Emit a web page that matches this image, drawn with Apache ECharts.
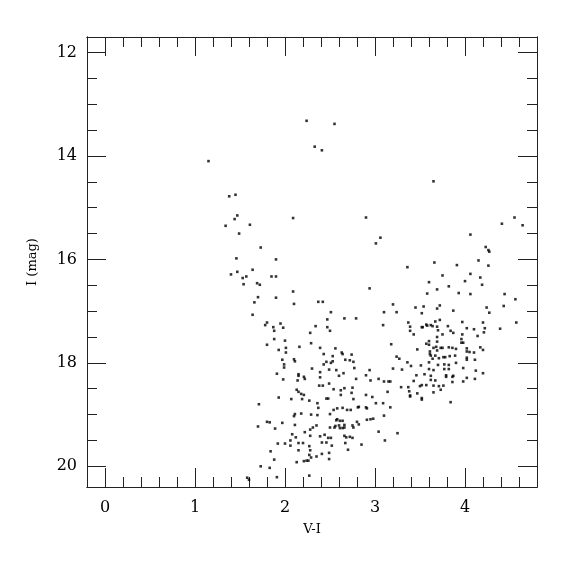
<!DOCTYPE html>
<html>
<head>
<meta charset="utf-8">
<script src="https://cdn.jsdelivr.net/npm/echarts@6/dist/echarts.min.js"></script>
<style>html,body{margin:0;padding:0;background:#fff;}#chart{width:575px;height:575px;}</style>
</head>
<body>
<div id="chart"></div>
<script>
// Tick labels
const xMajorTicks = [0, 1, 2, 3, 4];
const xMinorTicks = [0.2,0.4,0.6,0.8,1.2,1.4,1.6,1.8,2.2,2.4,2.6,2.8,3.2,3.4,3.6,3.8,4.2,4.4,4.6];
const yMajorTicks = [12, 14, 16, 18, 20];
const yMinorTicks = [12.5,13,13.5,14.5,15,15.5,16.5,17,17.5,18.5,19,19.5];

// Stars: [V-I, I]
const brightStars = [[1.15,14.10],[2.24,13.32],[2.55,13.38],[2.33,13.82],[2.41,13.89],[3.65,14.49],[2.09,15.20],[2.90,15.19],[3.06,15.58],[3.01,15.69],[4.55,15.19],[4.41,15.31],[4.64,15.34],[4.06,15.52],[4.23,15.76],[4.26,15.82],[4.27,15.85],[2.94,16.56]];

const blueArm = [[1.38,14.78],[1.45,14.75],[1.47,15.15],[1.44,15.22],[1.34,15.35],[1.61,15.33],[1.49,15.50],[1.73,15.77],[1.46,15.98],[1.90,16.00],[1.40,16.29],[1.47,16.24],[1.53,16.36],[1.57,16.33],[1.64,16.20],[1.85,16.33],[1.90,16.33],[1.54,16.48],[1.69,16.46],[1.72,16.49],[2.09,16.62],[1.70,16.73],[1.66,16.83],[1.90,16.74],[2.10,16.86],[1.64,17.07]];

const leftBranch = [[1.80,17.22],[1.78,17.27],[1.87,17.31],[1.95,17.24],[1.98,17.32],[1.88,17.38],[1.88,17.54],[2.00,17.57],[1.80,17.65],[1.93,17.75],[2.01,17.71],[2.01,17.80],[2.16,17.69],[1.97,17.94],[2.10,17.93],[2.11,17.97],[1.99,18.03],[1.99,18.09],[1.91,18.21],[1.98,18.32],[2.15,18.22],[2.15,18.25],[2.14,18.34],[1.93,18.67],[1.71,18.80],[1.70,19.23],[1.80,19.14],[1.83,19.15],[1.97,19.16],[1.89,19.27],[1.92,19.56],[2.00,19.56],[1.84,19.71],[1.88,19.87],[1.73,20.00],[1.83,20.03],[1.91,20.21],[1.58,20.22],[1.60,20.26]];

const mainBranch = [[2.37,16.82],[2.42,16.82],[3.20,16.87],[2.51,17.02],[3.10,17.02],[3.24,17.02],[2.66,17.14],[2.79,17.14],[2.47,17.16],[2.34,17.29],[2.47,17.31],[3.09,17.27],[2.50,17.38],[2.28,17.42],[2.29,17.62],[2.39,17.71],[2.56,17.72],[3.18,17.64],[2.43,17.83],[2.63,17.80],[2.64,17.83],[2.74,17.84],[3.24,17.88],[3.27,17.92],[2.53,17.87],[2.46,17.98],[2.51,18.00],[2.67,17.94],[2.72,17.95],[2.76,17.98],[2.43,18.03],[2.53,17.97],[2.30,18.11],[2.49,18.13],[2.57,18.14],[2.77,18.10],[3.20,18.11],[3.30,18.13],[2.94,18.14],[2.39,18.18],[2.65,18.20],[2.90,18.24],[2.21,18.27],[2.22,18.31],[2.39,18.28],[2.60,18.25],[2.79,18.31],[2.95,18.34],[3.04,18.31],[3.10,18.36],[3.15,18.36],[3.17,18.36],[2.49,18.40],[2.38,18.44],[2.42,18.44],[2.66,18.49],[2.75,18.48],[2.54,18.51],[2.62,18.53],[3.29,18.47],[2.13,18.52],[2.15,18.56],[2.21,18.62],[2.18,18.60],[2.62,18.62],[2.74,18.58],[2.90,18.62],[3.14,18.56],[2.07,18.70],[2.19,18.70],[2.27,18.73],[2.46,18.69],[2.48,18.69],[2.76,18.70],[2.97,18.66],[2.36,18.78],[3.09,18.78],[3.01,18.78],[2.82,18.85],[2.81,18.86],[2.90,18.86],[2.91,18.88],[2.64,18.87],[2.58,18.88],[2.37,18.87],[2.69,18.91],[2.73,18.91],[3.17,18.86],[2.54,18.91],[2.50,18.99],[2.11,18.99],[2.10,19.03],[2.18,18.98],[2.29,19.00],[2.36,19.01],[2.98,19.08],[3.10,19.02],[2.91,19.10],[2.95,19.09],[2.58,19.09],[2.57,19.11],[2.61,19.12],[2.64,19.12],[2.80,19.14],[2.11,19.20],[2.60,19.21],[2.66,19.20],[2.66,19.25],[2.75,19.21],[2.76,19.25],[2.82,19.19],[2.50,19.25],[2.55,19.25],[2.56,19.22],[2.31,19.25],[2.35,19.21],[2.61,19.26],[2.64,19.26],[2.28,19.29],[2.22,19.34],[3.04,19.33],[3.25,19.36],[2.08,19.38],[2.28,19.41],[2.39,19.42],[2.44,19.39],[2.48,19.45],[2.51,19.45],[2.66,19.41],[2.68,19.44],[2.72,19.43],[2.75,19.45],[2.12,19.44],[2.06,19.50],[3.11,19.50],[2.15,19.55],[2.20,19.55],[2.41,19.54],[2.46,19.54],[2.67,19.55],[2.85,19.58],[2.27,19.61],[2.52,19.60],[2.06,19.60],[2.15,19.69],[2.28,19.69],[2.70,19.68],[2.27,19.78],[2.29,19.83],[2.41,19.76],[2.49,19.74],[2.35,19.81],[2.49,19.86],[2.21,19.90],[2.24,19.89],[2.26,19.89],[2.13,19.92],[2.27,20.18]];

const redClump = [[3.66,16.06],[3.91,16.11],[4.15,16.02],[4.26,16.12],[3.36,16.15],[3.75,16.31],[4.06,16.28],[4.17,16.35],[3.60,16.44],[4.00,16.42],[4.19,16.49],[3.82,16.52],[3.69,16.58],[3.58,16.66],[3.93,16.65],[4.06,16.67],[4.44,16.67],[4.43,16.90],[4.24,16.93],[4.27,17.03],[3.45,16.93],[3.54,16.91],[3.72,16.89],[3.69,16.95],[3.52,17.04],[3.87,16.99],[3.72,17.17],[3.67,17.20],[3.37,17.22],[3.97,17.21],[4.20,17.22],[3.57,17.26],[3.62,17.27],[3.58,17.28],[3.64,17.29],[3.39,17.30],[3.52,17.31],[3.53,17.31],[3.69,17.30],[3.81,17.29],[4.02,17.33],[4.10,17.35],[4.22,17.33],[3.39,17.38],[3.70,17.37],[3.84,17.38],[3.87,17.42],[4.21,17.41],[4.39,17.34],[3.43,17.45],[3.75,17.45],[3.97,17.45],[4.14,17.48],[3.69,17.50],[3.96,17.54],[3.69,17.59],[3.60,17.58],[3.57,17.63],[3.60,17.65],[3.96,17.61],[3.98,17.61],[3.68,17.69],[3.65,17.71],[3.73,17.71],[3.75,17.71],[3.82,17.70],[3.86,17.71],[4.02,17.72],[4.17,17.70],[4.20,17.75],[3.47,17.74],[3.61,17.78],[3.69,17.76],[3.90,17.73],[4.02,17.78],[4.05,17.79],[4.10,17.80],[3.61,17.83],[3.62,17.86],[3.67,17.86],[3.89,17.86],[3.71,17.91],[3.76,17.89],[3.78,17.89],[3.83,17.87],[3.64,17.92],[4.02,17.90],[4.02,17.94],[4.11,17.94],[3.36,17.99],[3.40,18.06],[3.51,18.05],[3.60,17.99],[3.70,18.04],[3.77,18.03],[3.82,18.04],[3.90,18.00],[3.98,18.10],[3.60,18.12],[3.65,18.14],[3.77,18.12],[3.82,18.12],[4.12,18.15],[4.20,18.20],[3.55,18.22],[3.62,18.25],[3.46,18.24],[3.79,18.24],[3.79,18.27],[3.86,18.27],[3.87,18.25],[4.02,18.29],[4.11,18.31],[3.62,18.33],[3.43,18.35],[3.67,18.34],[3.86,18.37],[3.98,18.36],[3.37,18.47],[3.50,18.45],[3.52,18.43],[3.57,18.43],[3.65,18.44],[3.71,18.45],[3.76,18.44],[3.73,18.52],[3.38,18.55],[3.65,18.57],[3.47,18.59],[3.39,18.63],[3.39,18.65],[3.52,18.68],[3.52,18.71],[3.84,18.76],[4.56,16.77],[4.57,17.22]];

const X_MIN = -0.2, X_MAX = 4.8, Y_MIN = 11.7, Y_MAX = 20.4;
const FONT = 'DejaVu Serif';
const lineCol = '#222';

function xAx(pos, major, showLabel, name) {
  const ax = {
    type: 'value', gridIndex: 0, position: pos, min: X_MIN, max: X_MAX,
    axisLine: { show: true, onZero: false, lineStyle: { color: lineCol, width: 1 } },
    axisTick: { show: true, inside: true, length: major ? 19 : 10,
      customValues: major ? xMajorTicks : xMinorTicks, lineStyle: { color: lineCol, width: 1 } },
    axisLabel: { show: showLabel, customValues: xMajorTicks, margin: 13,
      fontFamily: FONT, fontSize: 16, color: '#000' },
    splitLine: { show: false }
  };
  if (name) {
    ax.name = name; ax.nameLocation = 'middle'; ax.nameGap = 36;
    ax.nameTextStyle = { fontFamily: FONT, fontSize: 13, color: '#000' };
  }
  return ax;
}
function yAx(pos, major, showLabel, name) {
  const ax = {
    type: 'value', gridIndex: 0, position: pos, min: Y_MIN, max: Y_MAX, inverse: true,
    axisLine: { show: true, onZero: false, lineStyle: { color: lineCol, width: 1 } },
    axisTick: { show: true, inside: true, length: major ? 19 : 10,
      customValues: major ? yMajorTicks : yMinorTicks, lineStyle: { color: lineCol, width: 1 } },
    axisLabel: { show: showLabel, customValues: yMajorTicks, margin: 10,
      fontFamily: FONT, fontSize: 16, color: '#000' },
    splitLine: { show: false }
  };
  if (name) {
    ax.name = name; ax.nameLocation = 'middle'; ax.nameGap = 48; ax.nameRotate = 90;
    ax.nameTextStyle = { fontFamily: FONT, fontSize: 13, color: '#000' };
  }
  return ax;
}

const allStars = [].concat(brightStars, blueArm, leftBranch, mainBranch, redClump);

const chart = echarts.init(document.getElementById('chart'), null, { renderer: 'canvas' });
chart.setOption({
  animation: false,
  backgroundColor: '#fff',
  grid: { left: 87, top: 37, width: 450, height: 450, outerBoundsMode: 'none' },
  xAxis: [
    xAx('bottom', true, true, 'V-I'),
    xAx('bottom', false, false),
    xAx('top', true, false),
    xAx('top', false, false)
  ],
  yAxis: [
    yAx('left', true, true, 'I (mag)'),
    yAx('left', false, false),
    yAx('right', true, false),
    yAx('right', false, false)
  ],
  series: [{
    type: 'scatter', xAxisIndex: 0, yAxisIndex: 0,
    symbol: 'rect', symbolSize: 2.6,
    itemStyle: { color: '#000' },
    silent: true,
    data: allStars
  }]
});
</script>
</body>
</html>
